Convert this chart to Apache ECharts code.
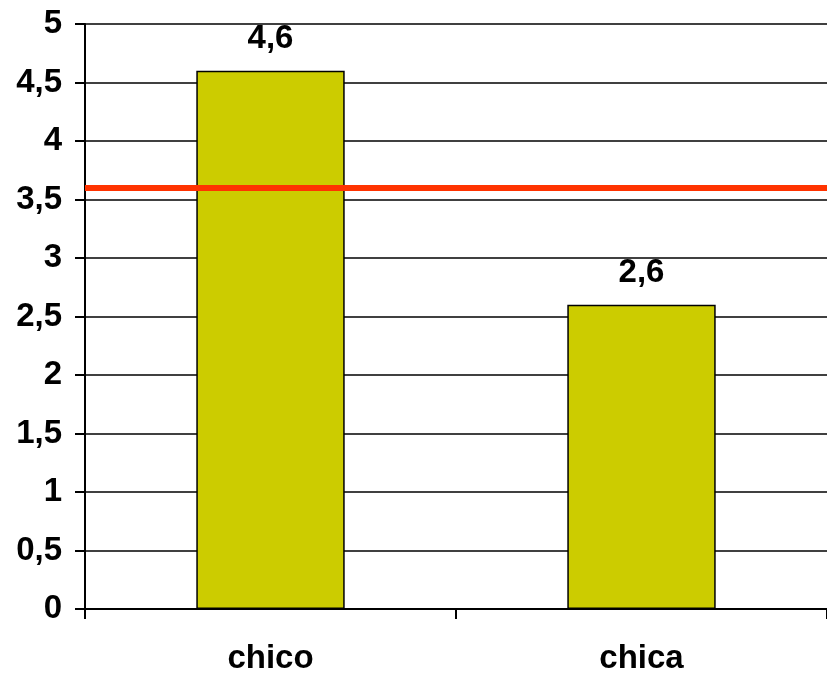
<!DOCTYPE html>
<html>
<head>
<meta charset="utf-8">
<script src="https://cdn.jsdelivr.net/npm/echarts@6/dist/echarts.min.js"></script>
<style>html,body{margin:0;padding:0;background:#fff}#c{width:827px;height:675px}</style>
</head>
<body>
<div id="c"></div>
<script>
const categories = ['chico', 'chica'];
const values = [4.6, 2.6];
const referenceLine = 3.6;
const yMin = 0, yMax = 5, yStep = 0.5;

const fmt = v => String(v).replace('.', ',');
const FONT = 'Liberation Sans, Arial, sans-serif';
const chart = echarts.init(document.getElementById('c'));
chart.setOption({
  animation: false,
  backgroundColor: '#ffffff',
  grid: { left: 85, width: 749, top: 24, height: 589.5, containLabel: false },
  xAxis: {
    type: 'category',
    data: categories,
    axisLine: { lineStyle: { color: '#000', width: 2 } },
    axisTick: { show: true, length: 10, lineStyle: { color: '#000', width: 2 } },
    axisLabel: { color: '#000', fontSize: 33, fontWeight: 'bold', fontFamily: FONT, margin: 33 },
    splitLine: { show: false }
  },
  yAxis: {
    type: 'value',
    min: yMin, max: yMax, interval: yStep,
    axisLine: { show: true, lineStyle: { color: '#000', width: 2 } },
    axisTick: { show: true, length: 10, lineStyle: { color: '#000', width: 2 } },
    axisLabel: { color: '#000', fontSize: 33, fontWeight: 'bold', fontFamily: FONT, margin: 23, formatter: v => fmt(v) },
    splitLine: { show: true, lineStyle: { color: '#000', width: 1.6 } }
  },
  series: [{
    type: 'bar',
    data: values,
    barWidth: '40%',
    itemStyle: { color: '#CCCC00', borderColor: '#000', borderWidth: 1.5 },
    label: { show: true, position: 'top', distance: 15, color: '#000', fontSize: 33, fontWeight: 'bold', fontFamily: FONT, formatter: p => fmt(p.value) },
    markLine: {
      silent: true,
      symbol: 'none',
      label: { show: false },
      lineStyle: { color: '#FF3300', width: 6, type: 'solid' },
      data: [{ yAxis: referenceLine }]
    }
  }]
});
</script>
</body>
</html>
